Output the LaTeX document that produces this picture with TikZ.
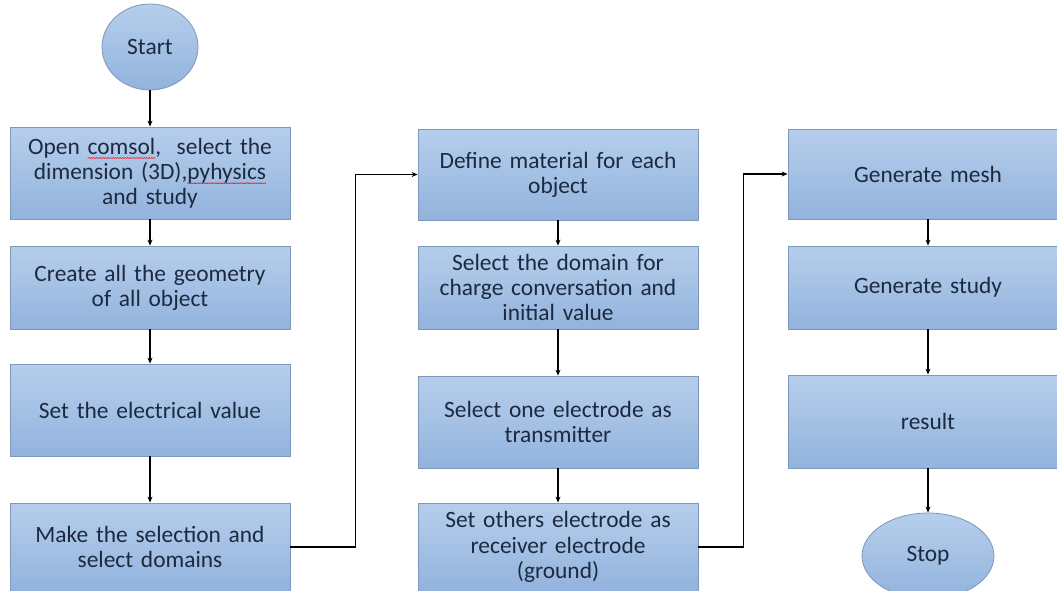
\documentclass[tikz,border=0pt]{standalone}
\usepackage{fontspec}
\setmainfont{Carlito}
\usetikzlibrary{arrows.meta,shapes.geometric}
\definecolor{boxtop}{HTML}{B6CEEC}
\definecolor{boxbot}{HTML}{92B3DD}
\definecolor{boxline}{HTML}{7E98BA}
\definecolor{txt}{HTML}{1C2A40}
\newsavebox\zigbox
\newcommand\redwave[1]{\setbox0=\hbox{#1}\rlap{\raisebox{-4.5pt}[0pt][0pt]{\hbox to \wd0{\xleaders\copy\zigbox\hfill}}}\box0}
\begin{document}
\begin{tikzpicture}[x=1pt,y=-1pt,
  box/.style={rectangle, draw=boxline, line width=0.8pt, top color=boxtop, bottom color=boxbot,
    minimum width=280pt, text width=276pt, align=center, inner sep=0pt,
    font=\fontsize{23.4}{25.2}\selectfont, text=txt},
  term/.style={ellipse, draw=boxline, line width=0.8pt, top color=boxtop, bottom color=boxbot,
    inner sep=0pt, font=\fontsize{23.4}{25.2}\selectfont, text=txt},
  arr/.style={-{Stealth[length=6pt,width=5pt]}, line width=1.1pt, black}]
\global\sbox\zigbox{\begin{pgfpicture}\pgfpathrectangle{\pgfpoint{0pt}{0pt}}{\pgfpoint{2.4pt}{1pt}}\pgfusepath{use as bounding box}\pgfsetlinewidth{0.5pt}\pgfsetstrokecolor{red}\pgfpathmoveto{\pgfpoint{0pt}{0pt}}\pgfpathlineto{\pgfpoint{1.2pt}{1pt}}\pgfpathlineto{\pgfpoint{2.4pt}{0pt}}\pgfusepath{stroke}\end{pgfpicture}}
\useasboundingbox (0,0) rectangle (1057,589);
\clip (0,0) rectangle (1057,589);
% column 1
\node[term, minimum width=96pt, minimum height=86pt] (start) at (150,46) {Start};
\node[box, minimum height=92pt] (b1) at (150,172) {Open \redwave{comsol},\ \ select the\\ dimension (3D),\redwave{pyhysics}\\ and study};
\node[box, minimum height=83pt] (b2) at (150,286.5) {Create all the geometry\\ of all object};
\node[box, minimum height=92pt] (b3) at (150,409) {Set the electrical value};
\node[box, minimum height=88pt] (b4) at (150,546) {Make the selection and\\ select domains};
% column 2
\node[box, minimum height=91pt] (c1) at (558,173.5) {Define material for each\\ object};
\node[box, minimum height=83pt] (c2) at (558,286.5) {Select the domain for\\ charge conversation and\\ initial value};
\node[box, minimum height=92pt] (c3) at (558,421) {Select one electrode as\\ transmitter};
\node[box, minimum height=88pt] (c4) at (558,546) {Set others electrode as\\ receiver electrode\\ (ground)};
% column 3
\node[box, minimum height=90pt] (d1) at (928,173) {Generate mesh};
\node[box, minimum height=83pt] (d2) at (928,286.5) {Generate study};
\node[box, minimum height=93pt] (d3) at (928,420.5) {result};
\node[term, minimum width=132pt, minimum height=86pt] (stop) at (928,555) {Stop};
% connectors
\draw[arr] (start) -- (b1);
\draw[arr] (b1) -- (b2);
\draw[arr] (b2) -- (b3);
\draw[arr] (b3) -- (b4);
\draw[arr] (b4.east) -- ++(65,0) |- (c1.west);
\draw[arr] (c1) -- (c2);
\draw[arr] (c2) -- (c3);
\draw[arr] (c3) -- (c4);
\draw[arr] (c4.east) -- ++(45,0) |- (d1.west);
\draw[arr] (d1) -- (d2);
\draw[arr] (d2) -- (d3);
\draw[arr] (d3) -- (stop);
\end{tikzpicture}
\end{document}
